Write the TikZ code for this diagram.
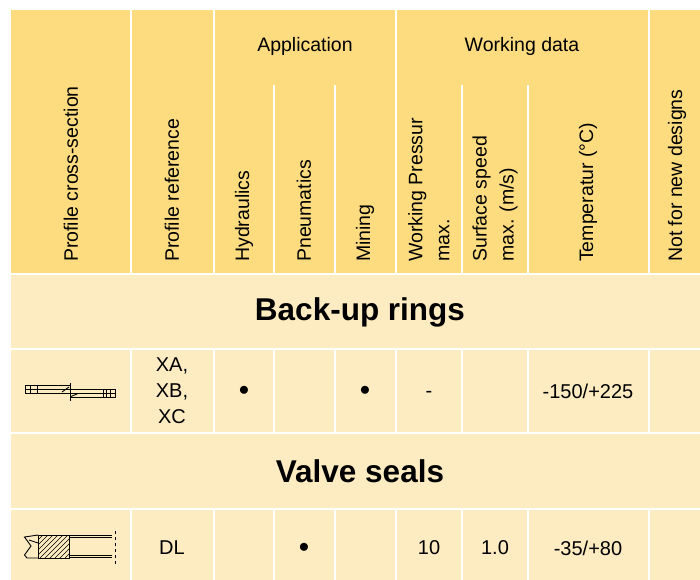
\documentclass[tikz,border=0pt]{standalone}
\usepackage{fontspec}
\setmainfont{Liberation Sans}
\definecolor{headyellow}{RGB}{253,220,128}
\definecolor{rowyellow}{RGB}{253,236,194}

\begin{document}
\begin{tikzpicture}[x=1pt,y=-1pt,
    hd/.style={font=\fontsize{19.5}{27}\selectfont, inner sep=0pt},
    vhd/.style={hd, rotate=90, anchor=west, align=left},
    cell/.style={font=\fontsize{20}{26}\selectfont, inner sep=0pt, align=center},
    band/.style={font=\fontsize{31.5}{36}\selectfont\bfseries, inner sep=0pt},
    grid/.style={white, line width=1.5pt},
    part/.style={black, line width=0.9pt}]
      \useasboundingbox (0,0) rectangle (700,579);
      \clip (0,0) rectangle (700,579);
      \fill[headyellow] (11,10) rectangle (710,274);
      \fill[rowyellow] (11,274) rectangle (710,590);
      % grid
      \foreach \x in {131,214,396,649}
        \draw[grid] (\x,10) -- (\x,274);
      \foreach \x in {274,335,462,528}
        \draw[grid] (\x,85) -- (\x,274);
      \foreach \y in {274,349,433,509}
        \draw[grid] (11,\y) -- (710,\y);
      \foreach \x in {131,214,274,335,396,462,528,649} {
        \draw[grid] (\x,349) -- (\x,433);
        \draw[grid] (\x,509) -- (\x,590);
      }
      % header
      \path
        (305,46) node[hd] (appl){Application}
        (522,46) node[hd] (work){Working data}
        (71,262) node[vhd] (crossx){Profile cross-section}
        (172,262) node[vhd] (profref){Profile reference}
        (244,262) node[vhd] (hydr){Hydraulics}
        (304,262) node[vhd] (pneu){Pneumatics}
        (365,262) node[vhd] (mining){Mining}
        (429,262) node[vhd] (press){Working Pressur\\max.}
        (495,262) node[vhd] (speed){Surface speed\\max. (m/s)}
        (588,262) node[vhd] (temp){Temperatur (°C)}
        (677,262) node[vhd] (notnew){Not for new designs};
      % bands
      \path
        (360,312) node[band] (backup){Back-up rings}
        (360,471) node[band] (valve){Valve seals};
      % row 1
      \path
        (172,391) node[cell] (xref){XA,\\XB,\\XC}
        (244,391) node[cell] (xhydr){$\bullet$}
        (365,391) node[cell] (xmin){$\bullet$}
        (429,391) node[cell] (xpress){\vphantom{1}-}
        (588,391) node[cell] (xtemp){-150/+225};
      % row 2
      \path
        (172,548) node[cell] (dref){DL}
        (304,548) node[cell] (dpneu){$\bullet$}
        (429,548) node[cell] (dpress){10}
        (495,548) node[cell] (dspeed){1.0}
        (588,548) node[cell] (dtemp){-35/+80};
      % back-up ring profile
      \begin{scope}[part]
        \draw (25,385.5) rectangle (70,393);
        \draw (70,389.3) rectangle (115.7,397.3);
        \draw (25,389.3) -- (70,389.3);
        \draw (70,393) -- (115.7,393);
        \foreach \x in {30,37.3}
          \draw (\x,385.5) -- (\x,393);
        \foreach \x in {103.3,106,110.7}
          \draw (\x,389.3) -- (\x,397.3);
        \draw (70,382.7) -- (70,400.7);
        \draw (62,392) -- (69,387);
        \draw (71,396.5) -- (78,393.5);
      \end{scope}
      % valve seal profile
      \begin{scope}[part]
        \draw (38,535) -- (24.5,537) -- (31,546) -- (24.5,555) -- (27,558) -- (38,558);
        \draw (29,540) -- (38,543);
        \draw (38,535) rectangle (69,558);
        \begin{scope}
          \clip (38,535) rectangle (69,558);
          \foreach \k in {0,5,...,55}
            \draw[line width=0.6pt] (15+\k,558) -- (38+\k,535);
        \end{scope}
        \draw (69,535) -- (112,535);
        \draw[line width=0.5pt] (69,537) -- (112,537);
        \draw (69,555) -- (112,555);
        \draw[line width=0.5pt] (69,557) -- (112,557);
        \draw[dashed] (115,531) -- (115,564);
      \end{scope}
    \end{tikzpicture}
\end{document}
